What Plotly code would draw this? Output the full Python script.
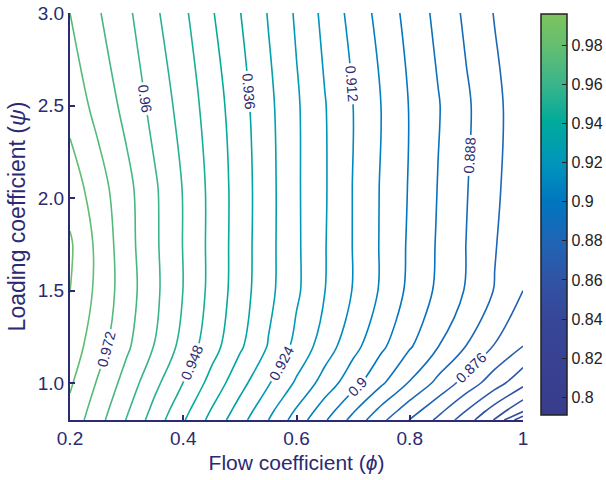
import math
import plotly.graph_objects as go

# Flow coefficient (phi) grid and loading coefficient (psi) rows
phi = [0.20, 0.25, 0.30, 0.35, 0.40, 0.45, 0.50, 0.55, 0.60,
       0.65, 0.70, 0.75, 0.80, 0.85, 0.90, 0.95, 1.00]
psi = [0.80, 0.85, 1.00, 1.20, 1.50, 1.75, 2.05, 2.50, 3.00]

# Efficiency values (rows follow psi)
eta_psi_080 = [.9759, .9681, .9597, .9511, .9426, .9342, .9262, .9181, .9094, .9007, .8921, .8834, .8758, .8688, .8607, .8516, .8350]
eta_psi_085 = [.9766, .9689, .9607, .9522, .9439, .9356, .9277, .9197, .9113, .9029, .8946, .8863, .8787, .8717, .8639, .8554, .8470]
eta_psi_100 = [.9788, .9713, .9636, .9555, .9479, .9399, .9321, .9246, .9171, .9095, .9022, .8949, .8875, .8804, .8735, .8667, .8597]
eta_psi_120 = [.9813, .9744, .9671, .9598, .9520, .9445, .9370, .9297, .9223, .9151, .9080, .9012, .8947, .8882, .8819, .8757, .8700]
eta_psi_150 = [.9841, .9764, .9688, .9613, .9539, .9463, .9389, .9317, .9250, .9181, .9117, .9052, .8986, .8929, .8875, .8817, .8760]
eta_psi_175 = [.9848, .9764, .9683, .9610, .9538, .9464, .9391, .9319, .9250, .9183, .9118, .9054, .8991, .8934, .8879, .8824, .8770]
eta_psi_205 = [.9814, .9746, .9678, .9608, .9537, .9464, .9392, .9320, .9249, .9185, .9118, .9055, .8995, .8938, .8883, .8831, .8780]
eta_psi_250 = [.9758, .9700, .9642, .9580, .9517, .9452, .9384, .9315, .9248, .9183, .9120, .9059, .8997, .8944, .8889, .8836, .8783]
eta_psi_300 = [.9720, .9665, .9613, .9550, .9492, .9426, .9362, .9297, .9232, .9164, .9100, .9039, .8979, .8924, .8868, .8817, .8765]

eta = [eta_psi_080, eta_psi_085, eta_psi_100, eta_psi_120, eta_psi_150,
       eta_psi_175, eta_psi_205, eta_psi_250, eta_psi_300]

x_ticks = [0.2, 0.4, 0.6, 0.8, 1.0]
x_ticktext = ["0.2", "0.4", "0.6", "0.8", "1"]
y_ticks = [1.0, 1.5, 2.0, 2.5, 3.0]
y_ticktext = ["1.0", "1.5", "2.0", "2.5", "3.0"]
cb_ticks = [0.80, 0.82, 0.84, 0.86, 0.88, 0.90, 0.92, 0.94, 0.96, 0.98]
cb_ticktext = ["0.8", "0.82", "0.84", "0.86", "0.88", "0.9", "0.92", "0.94", "0.96", "0.98"]

ZMIN, ZMAX = 0.791, 0.996
NAVY = "#2b2a72"
FONT = "Liberation Sans, Arial, sans-serif"

cscale_stops = [
    (0.00, (57, 60, 140)),
    (0.24, (55, 70, 152)),
    (0.34, (48, 84, 165)),
    (0.43, (32, 100, 180)),
    (0.53, (0, 118, 192)),
    (0.63, (0, 150, 188)),
    (0.73, (0, 170, 155)),
    (0.82, (55, 180, 140)),
    (0.92, (100, 190, 112)),
    (1.00, (125, 195, 95)),
]
cscale = [[p, "rgb(%d,%d,%d)" % c] for p, c in cscale_stops]


def colour_at(v):
    t = min(max((v - ZMIN) / (ZMAX - ZMIN), 0.0), 1.0)
    for (p0, c0), (p1, c1) in zip(cscale_stops[:-1], cscale_stops[1:]):
        if p0 <= t <= p1:
            f = (t - p0) / (p1 - p0) if p1 > p0 else 0.0
            c = [round(a + (b - a) * f) for a, b in zip(c0, c1)]
            return "rgb(%d,%d,%d)" % tuple(c)
    return "rgb(%d,%d,%d)" % cscale_stops[-1][1]


def contour_trace(start, end, size, labels):
    # plotly maps a 'lines' colourscale onto [first level, last level],
    # so build a per-trace scale that reproduces the global colour map
    nc = int(math.floor((end - start) / size + 1e-9)) + 1
    last = start + (nc - 1) * size
    n = 24
    scale = [[k / n, colour_at(start + (last - start) * k / n)] for k in range(n + 1)]
    return go.Contour(
        x=phi, y=psi, z=eta,
        colorscale=scale, showscale=False,
        contours=dict(start=start, end=end, size=size, coloring="lines",
                      showlabels=labels,
                      labelfont=dict(size=14.5, color=NAVY, family=FONT),
                      labelformat=".3~f"),
        line=dict(width=1.6, smoothing=1.0),
        hoverinfo="skip",
    )


fig = go.Figure()
# unlabelled levels
fig.add_trace(contour_trace(0.834, 0.978, 0.012, False))
fig.add_trace(contour_trace(0.840, 0.864, 0.012, False))
fig.add_trace(contour_trace(0.984, 0.996, 0.012, False))
# labelled levels
fig.add_trace(contour_trace(0.876, 0.972, 0.012, True))

# colour bar
fig.add_trace(go.Scatter(
    x=[None], y=[None], mode="markers", showlegend=False, hoverinfo="skip",
    marker=dict(colorscale=cscale, cmin=ZMIN, cmax=ZMAX, color=[ZMIN],
                showscale=True,
                colorbar=dict(x=1.0397, xanchor="left", xpad=0, thickness=26,
                              len=0.985, y=0.505, yanchor="middle", ypad=0,
                              outlinewidth=1.5, outlinecolor="#222",
                              ticks="inside", ticklen=5, tickcolor="#222",
                              tickvals=cb_ticks, ticktext=cb_ticktext,
                              tickfont=dict(size=16, color="#222", family=FONT))),
))

fig.update_layout(
    width=606, height=480,
    margin=dict(l=70, r=83, t=13, b=60, autoexpand=False),
    paper_bgcolor="white", plot_bgcolor="white",
    font=dict(family=FONT, color=NAVY),
    showlegend=False,
)
fig.update_xaxes(
    range=[0.2, 1.0], tickvals=x_ticks, ticktext=x_ticktext,
    showgrid=False, zeroline=False, showline=True, linecolor=NAVY, linewidth=2,
    ticks="inside", ticklen=5, tickcolor=NAVY, tickwidth=1.5,
    tickfont=dict(size=19, color=NAVY),
    title=dict(text="Flow coefficient (<i>ϕ</i>)", font=dict(size=21, color=NAVY), standoff=8),
)
fig.update_yaxes(
    range=[0.8, 3.0], tickvals=y_ticks, ticktext=y_ticktext,
    showgrid=False, zeroline=False, showline=True, linecolor=NAVY, linewidth=2,
    ticks="inside", ticklen=5, tickcolor=NAVY, tickwidth=1.5,
    tickfont=dict(size=19, color=NAVY),
    title=dict(text="Loading coefficient (<i>ψ</i>)", font=dict(size=23, color=NAVY), standoff=6),
)

fig.write_html("out.html")
